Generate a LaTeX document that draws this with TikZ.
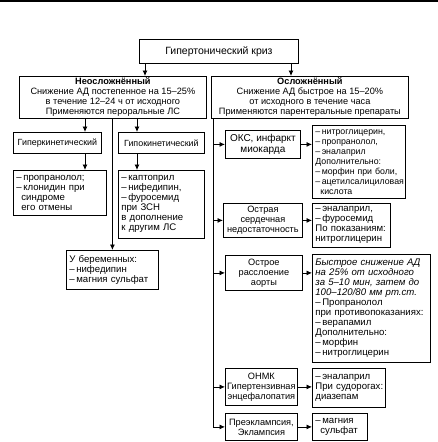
\documentclass[tikz,border=0pt]{standalone}
\usepackage{fontspec}
\setmainfont{Liberation Sans}
\usetikzlibrary{arrows.meta}
\newcommand\fsn{\fontsize{9.2}{10}\selectfont}
\newcommand\fsd{\fontsize{9.6}{10}\selectfont}
\newcommand\dash{\mbox{–}\,}
\newcommand\mb[1]{\mbox{#1}}
\begin{document}
\begin{tikzpicture}[x=1pt,y=-1pt,
  box/.style={draw, line width=0.8pt, anchor=north west, inner sep=1.5pt, align=center, font=\fsn},
  lbox/.style={box, align=left, inner xsep=3pt, font=\fsd},
  arr/.style={line width=0.8pt, -{Latex[length=5.5pt,width=5pt]}},
  ln/.style={line width=0.8pt}]
\useasboundingbox (0,0) rectangle (438,442);
\draw[line width=2pt] (0,1) -- (438,1);
% top
\node[box, minimum width=159, minimum height=24, font=\fontsize{10.5}{12}\selectfont] (T) at (139,39) {Гипертонический криз};
\node[box, minimum width=187, minimum height=41] (L) at (19,76)
 {\textbf{Неосложнённый}\\Снижение АД постепенное на 15–25\%\\в течение 12–24 ч от исходного\\Применяются пероральные ЛС};
\node[box, minimum width=197, minimum height=41] (R) at (211,76)
 {\textbf{Осложнённый}\\Снижение АД быстрое на 15–20\%\\от исходного в течение часа\\Применяются парентеральные препараты};
\draw[arr] (T.south -| 145,0) -- (L.north -| 145,0);
\draw[arr] (T.south -| 291,0) -- (R.north -| 291,0);
% left branch
\node[box, minimum width=88, minimum height=21, font=\fontsize{8.9}{10}\selectfont] (HK) at (13,132) {Гиперкинетический};
\node[box, minimum width=86, minimum height=21, font=\fontsize{8.9}{10}\selectfont] (HP) at (118,132) {Гипокинетический};
\node[lbox, text width=87, minimum height=45] (HKd) at (13,170)
 {\dash пропранолол;\\\dash \mb{клонидин при}\\\hspace*{5pt}синдроме\\\hspace*{5pt}\mb{его отмены}};
\node[lbox, text width=80, minimum height=68] (HPd) at (118,170)
 {\dash каптоприл\\\dash нифедипин,\\\dash фуросемид\\\mb{при ЗСН}\\\mb{в дополнение}\\\mb{к другим ЛС}};
\node[lbox, text width=86, minimum height=39] (PG) at (66,250)
 {\mb{У беременных:}\\\dash нифедипин\\\dash \mb{магния сульфат}};
\draw[arr] (L.south -| 85,0) -- (HK.north -| 85,0);
\draw[arr] (HK.south -| 85,0) -- (HKd.north -| 85,0);
\draw[arr] (L.south -| 137,0) -- (HP.north -| 137,0);
\draw[arr] (HP.south -| 137,0) -- (HPd.north -| 137,0);
\draw[arr] (L.south -| PG.north) -- (PG.north);
% right branch
\node[box, minimum width=75, minimum height=28, font=\fontsize{10}{11}\selectfont] (OKS) at (225,130) {ОКС, инфаркт\\миокарда};
\node[lbox, text width=87, minimum height=73, font=\fontsize{8.8}{10}\selectfont] (OKSd) at (312,125)
 {\dash нитроглицерин,\\\dash пропранолол,\\\dash эналаприл\\Дополнительно:\\\dash \mb{морфин при боли,}\\\dash ацетилсалициловая\\\hspace*{5pt}кислота};
\node[box, minimum width=79, minimum height=34] (OSN) at (223,203) {Острая\\сердечная\\недостаточность};
\node[lbox, text width=72, minimum height=44] (OSNd) at (312,203)
 {\dash эналаприл,\\\dash фуросемид\\\mb{По показаниям:}\\нитроглицерин};
\node[box, minimum width=77, minimum height=35] (AO) at (225,255) {Острое\\расслоение\\аорты};
\node[lbox, text width=112, minimum height=108] (AOd) at (312,254)
 {\textit{\mb{Быстрое снижение АД}}\\\textit{\mb{на 25\% от исходного}}\\\textit{\mb{за 5–10 мин, затем до}}\\\textit{\mb{100–120/80 мм рт.ст.}}\\\dash Пропранолол\\\mb{при противопоказаниях:}\\\dash верапамил\\Дополнительно:\\\dash морфин\\\dash нитроглицерин};
\node[box, minimum width=72, minimum height=37] (ON) at (225,368) {ОНМК\\Гипертензивная\\энцефалопатия};
\node[lbox, text width=67, minimum height=39] (ONd) at (312,368)
 {\dash эналаприл\\\mb{При судорогах:}\\диазепам};
\node[box, minimum width=72, minimum height=27] (PE) at (225,413) {Преэклампсия,\\Эклампсия};
\node[lbox, text width=49, minimum height=27] (PEd) at (312,413)
 {\dash магния\\\hspace*{5pt}сульфат};
\coordinate (tr) at (R.south -| 213,0);
\draw[ln] (tr) -- (tr |- PE.west);
\foreach \b/\d in {OKS/OKSd, OSN/OSNd, AO/AOd, ON/ONd, PE/PEd} {
  \draw[arr] (tr |- \b.west) -- (\b.west);
  \draw[arr] (\b.east) -- (\b.east -| \d.west);
}
\end{tikzpicture}
\end{document}
